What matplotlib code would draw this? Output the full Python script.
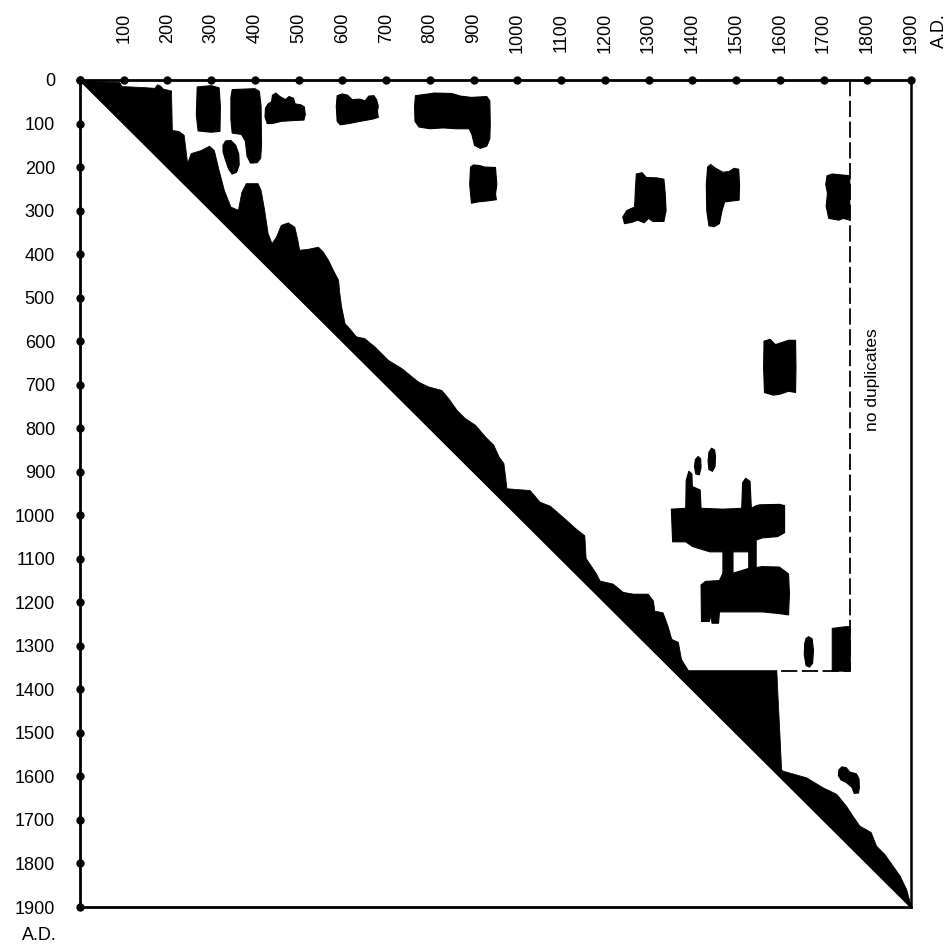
import matplotlib
matplotlib.use("Agg")
import matplotlib.pyplot as plt
from matplotlib.patches import Polygon

plt.rcParams['font.family'] = ['Liberation Sans', 'DejaVu Sans']

# Axis scale (years A.D.)
years = list(range(0, 2000, 100))
x_tick_labels = [str(y) for y in years[1:]]
y_tick_labels = [str(y) for y in years]

# Upper edge of the black band that runs along the diagonal
band_x = [0, 40, 90, 95, 140, 170, 176, 182, 190, 208, 210, 225, 237, 245, 253,
          276, 295, 306, 317, 329, 344, 361, 369, 379, 406, 413, 421, 429, 438,
          448, 459, 475, 490, 497, 501, 520, 544, 555, 567, 578, 590, 593, 597,
          605, 612, 631, 650, 673, 704, 735, 773, 796, 826, 842, 861, 880, 903,
          926, 945, 957, 968, 972, 975, 1028, 1051, 1074, 1104, 1134, 1153,
          1156, 1180, 1188, 1218, 1241, 1264, 1298, 1310, 1313, 1332, 1343,
          1352, 1367, 1374, 1390, 1592, 1595, 1599, 1603, 1607, 1660, 1698,
          1729, 1751, 1766, 1782, 1808, 1820, 1839, 1858, 1874, 1889, 1900]
band_top = [0, 3, 5, 14, 16, 18, 10, 12, 20, 24, 115, 117, 126, 191, 168,
            161, 151, 161, 207, 253, 291, 298, 257, 237, 237, 253, 298, 352, 375,
            360, 333, 327, 337, 367, 390, 388, 383, 394, 413, 436, 459, 490, 520,
            559, 566, 589, 593, 612, 643, 662, 693, 704, 712, 731, 758, 777, 792,
            819, 838, 865, 880, 911, 938, 942, 969, 978, 1004, 1031, 1046,
            1098, 1134, 1150, 1157, 1176, 1180, 1180, 1196, 1219, 1223, 1253,
            1284, 1291, 1330, 1356, 1356, 1420, 1500, 1584, 1587, 1602, 1625,
            1640, 1667, 1690, 1713, 1728, 1759, 1778, 1805, 1828, 1859, 1900]

# Isolated duplicate clusters: (x list, y list)
blob_300_x = [268, 300, 318, 321, 320, 300, 270, 266]
blob_300_y = [16, 13, 18, 60, 118, 120, 117, 80]

blob_350_x = [333, 345, 356, 363, 364, 358, 348, 340, 333, 327, 327]
blob_350_y = [140, 139, 150, 170, 195, 212, 216, 205, 185, 165, 150]

blob_400_x = [348, 400, 410, 414, 415, 413, 405, 390, 382, 378, 369, 348, 345, 345]
blob_400_y = [22, 20, 26, 60, 150, 180, 190, 191, 175, 140, 125, 122, 90, 40]

blob_500_x = [424, 430, 438, 440, 448, 457, 470, 478, 488, 492, 505, 513, 515,
              512, 490, 460, 440, 428, 423]
blob_500_y = [65, 55, 50, 35, 30, 38, 45, 38, 42, 55, 57, 62, 80, 92, 93, 95,
              100, 100, 85]

blob_600_x = [588, 600, 612, 622, 640, 652, 660, 672, 678, 682, 680, 682, 668,
              640, 615, 595, 588, 586]
blob_600_y = [36, 32, 35, 45, 44, 48, 37, 36, 45, 60, 72, 86, 90, 95, 100, 103,
              95, 60]

blob_800_x = [767, 790, 810, 850, 870, 895, 930, 937, 938, 937, 930, 915, 902,
              896, 890, 860, 830, 800, 775, 766, 765]
blob_800_y = [36, 33, 30, 31, 37, 40, 38, 48, 100, 135, 152, 157, 150, 125, 112,
              112, 110, 112, 108, 95, 60]

blob_900_x = [893, 900, 915, 925, 950, 953, 950, 952, 930, 910, 895, 891]
blob_900_y = [200, 195, 197, 200, 201, 240, 262, 275, 278, 280, 283, 240]

blob_1300_x = [1272, 1285, 1295, 1320, 1335, 1338, 1340, 1335, 1310, 1300, 1290,
               1275, 1262, 1245, 1241, 1250, 1268, 1270]
blob_1300_y = [216, 213, 224, 225, 228, 260, 300, 325, 325, 318, 328, 322, 327,
               330, 315, 300, 292, 250]

blob_1450_x = [1435, 1442, 1452, 1470, 1485, 1495, 1506, 1508, 1507, 1490, 1474,
               1468, 1462, 1450, 1438, 1433, 1432]
blob_1450_y = [200, 194, 202, 212, 210, 203, 205, 240, 276, 278, 280, 300, 330,
               337, 335, 300, 240]

blob_1700_x = [1708, 1720, 1740, 1760, 1760, 1745, 1735, 1712, 1706, 1709, 1705]
blob_1700_y = [220, 216, 218, 220, 322, 318, 322, 318, 290, 260, 240]

blob_1600_x = [1564, 1578, 1590, 1605, 1620, 1636, 1637, 1636, 1620, 1600, 1585,
               1565, 1563]
blob_1600_y = [600, 596, 608, 603, 598, 598, 660, 718, 715, 722, 724, 718, 660]

blob_upper_bar_x = [1352, 1385, 1386, 1392, 1399, 1400, 1418, 1420, 1470, 1513,
                    1515, 1522, 1532, 1535, 1546, 1554, 1600, 1611, 1611, 1595,
                    1560, 1546, 1546, 1529, 1529, 1493, 1493, 1470, 1470, 1440,
                    1401, 1385, 1355]
blob_upper_bar_y = [986, 984, 920, 899, 905, 934, 942, 984, 986, 984, 925, 915,
                    922, 984, 978, 976, 975, 978, 1040, 1049, 1052, 1057, 1122,
                    1122, 1084, 1084, 1133, 1133, 1084, 1084, 1072, 1061, 1061]

blob_lower_bar_x = [1420, 1430, 1462, 1470, 1493, 1510, 1529, 1546, 1560, 1599,
                    1611, 1620, 1622, 1620, 1600, 1560, 1462, 1460, 1445, 1443,
                    1439, 1421]
blob_lower_bar_y = [1160, 1152, 1150, 1133, 1133, 1128, 1122, 1120, 1118, 1119,
                    1128, 1135, 1180, 1229, 1226, 1222, 1222, 1248, 1248, 1228,
                    1244, 1244]

blob_dot_a_x = [1444, 1451, 1453, 1452, 1446, 1438, 1436, 1438]
blob_dot_a_y = [846, 850, 865, 888, 899, 895, 875, 855]

blob_dot_b_x = [1413, 1419, 1420, 1416, 1408, 1405, 1407]
blob_dot_b_y = [865, 870, 890, 907, 905, 888, 872]

blob_dot_c_x = [1666, 1674, 1677, 1675, 1668, 1660, 1656, 1657, 1660]
blob_dot_c_y = [1279, 1284, 1310, 1340, 1349, 1345, 1320, 1295, 1283]

blob_1750_x = [1720, 1735, 1752, 1761, 1761, 1720]
blob_1750_y = [1260, 1258, 1256, 1256, 1358, 1358]

blob_1760_x = [1735, 1742, 1752, 1760, 1775, 1781, 1782, 1780, 1770, 1765, 1752,
               1740, 1734]
blob_1760_y = [1585, 1578, 1580, 1590, 1594, 1605, 1625, 1638, 1639, 1625, 1614,
               1608, 1598]

blobs = [
    (blob_300_x, blob_300_y), (blob_350_x, blob_350_y), (blob_400_x, blob_400_y),
    (blob_500_x, blob_500_y), (blob_600_x, blob_600_y), (blob_800_x, blob_800_y),
    (blob_900_x, blob_900_y), (blob_1300_x, blob_1300_y),
    (blob_1450_x, blob_1450_y), (blob_1700_x, blob_1700_y),
    (blob_1600_x, blob_1600_y), (blob_upper_bar_x, blob_upper_bar_y),
    (blob_lower_bar_x, blob_lower_bar_y), (blob_dot_a_x, blob_dot_a_y),
    (blob_dot_b_x, blob_dot_b_y), (blob_dot_c_x, blob_dot_c_y),
    (blob_1750_x, blob_1750_y), (blob_1760_x, blob_1760_y),
]

# Limit of the region that was searched for duplicates
limit_x = 1760
limit_y = 1358
limit_start_x = 1592

fig = plt.figure(figsize=(9.5, 9.46), dpi=100)
ax = fig.add_axes([80 / 950, 39 / 946, 831 / 950, 827 / 946])
ax.set_xlim(0, 1900)
ax.set_ylim(1900, 0)

ax.fill_between(band_x, band_top, band_x, color='black', lw=0.6, ec='black')
ax.plot([0, 1900], [0, 1900], color='black', lw=1.5, solid_capstyle='butt')
for bx, by in blobs:
    ax.add_patch(Polygon(list(zip(bx, by)), closed=True, fc='black', ec='black',
                         lw=0.8, joinstyle='round'))

ax.plot([limit_x, limit_x, limit_start_x], [0, limit_y, limit_y], color='black',
        lw=1.3, dashes=(9, 2.5))

# Frame
for side in ['top', 'left', 'bottom']:
    ax.spines[side].set_linewidth(2.0)
ax.spines['right'].set_linewidth(1.8)

# Dot markers along the top and left axes
ax.plot(years, [0] * len(years), 'o', ms=5, color='black', clip_on=False, zorder=5)
ax.plot([0] * len(years), years, 'o', ms=5, color='black', clip_on=False, zorder=5)

ax.set_xticks([])
ax.set_yticks(years)
ax.set_yticklabels(y_tick_labels, fontsize=13)
ax.tick_params(axis='y', length=0, pad=18)

xt = ax.get_xaxis_transform()
for yr, lab in zip(years[1:], x_tick_labels):
    ax.text(yr, 1.081, lab, transform=xt, rotation=90, ha='center', va='top',
            fontsize=13, clip_on=False)
ax.text(1965, 1.081, 'A.D.', transform=xt, rotation=90, ha='center', va='top',
        fontsize=13, clip_on=False)
ax.text(-0.049, -0.034, 'A.D.', transform=ax.transAxes, ha='center', va='center',
        fontsize=13)

ax.text(1812, 688, 'no duplicates', rotation=90, ha='center', va='center',
        fontsize=12.5)

fig.savefig('out.png', dpi=100, facecolor='white')
